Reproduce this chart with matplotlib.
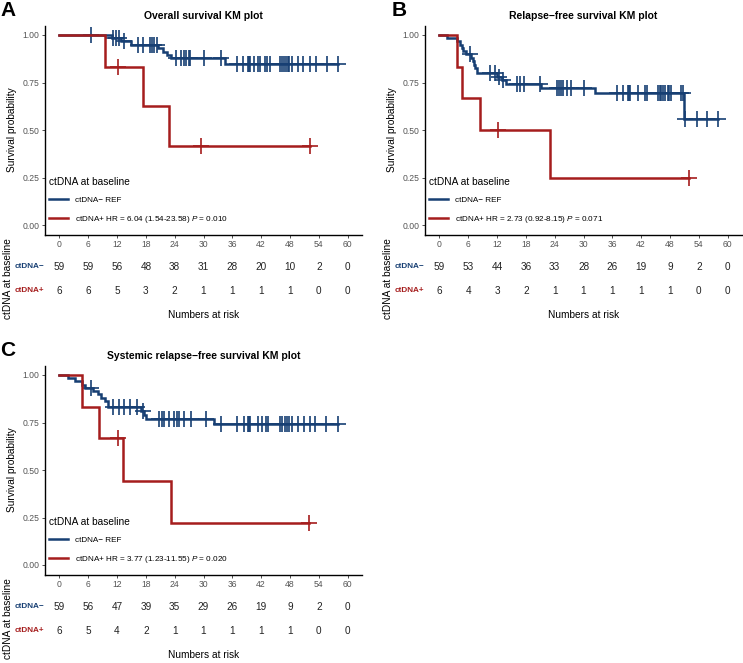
import numpy as np
import matplotlib
matplotlib.use("Agg")
import matplotlib.pyplot as plt
from matplotlib.transforms import blended_transform_factory

plt.rcParams['font.family'] = ['Liberation Sans', 'DejaVu Sans']
plt.rcParams['mathtext.fontset'] = 'custom'
plt.rcParams['mathtext.rm'] = 'Liberation Sans'
plt.rcParams['mathtext.it'] = 'Liberation Sans:italic'

BLUE = '#173F73'
RED = '#A51D1D'
MINUS = '\u2212'

# ==========================================
# DATA
# ==========================================
risk_times = [0, 6, 12, 18, 24, 30, 36, 42, 48, 54, 60]

# --- A: overall survival ---
a_neg_event_t = [11.0, 12.8, 14.9, 20.5, 21.5, 22.5, 23.3, 34.4]
a_neg_event_s = [0.983, 0.966, 0.948, 0.930, 0.912, 0.894, 0.877, 0.847]
a_neg_cens = [6.6, 11.1, 11.7, 12.4, 13.4, 16.4, 17.5, 18.8, 19.2, 19.6, 20.3,
              24.3, 25.3, 25.9, 26.3, 26.9, 27.2, 30.2, 33.7, 36.9, 38.3, 39.2,
              39.4, 39.6, 40.6, 41.3, 41.8, 42.9, 43.2, 43.9, 45.9, 46.4, 46.8,
              47.1, 47.5, 47.9, 48.5, 49.7, 50.8, 52.2, 53.4, 55.7, 58.0]
a_pos_event_t = [9.4, 17.4, 22.8]
a_pos_event_s = [0.833, 0.625, 0.417]
a_pos_cens = [12.2, 29.5, 52.1]
a_risk_neg = [59, 59, 56, 48, 38, 31, 28, 20, 10, 2, 0]
a_risk_pos = [6, 6, 5, 3, 2, 1, 1, 1, 1, 0, 0]
a_hr = "HR = 6.04 (1.54-23.58) $\\mathit{P}$ = 0.010"
a_title = "Overall survival KM plot"

# --- B: relapse-free survival ---
b_neg_event_t = [1.6, 3.7, 4.2, 4.6, 5.0, 5.5, 6.6, 6.9, 7.2, 7.5, 7.8,
                 11.9, 13.0, 13.8, 21.1, 32.4, 50.9]
b_neg_event_s = [0.983, 0.966, 0.949, 0.932, 0.915, 0.898, 0.880, 0.862, 0.843,
                 0.824, 0.800, 0.781, 0.762, 0.742, 0.722, 0.693, 0.556]
b_neg_cens = [6.4, 10.6, 11.6, 12.4, 13.3, 16.2, 16.8, 17.6, 21.0, 24.4, 24.8,
              25.4, 25.7, 26.6, 27.4, 30.2, 36.9, 38.2, 39.2, 39.4, 39.6, 41.4,
              42.9, 43.3, 45.5, 45.9, 46.2, 46.6, 47.0, 47.5, 47.9, 48.3, 50.2,
              50.7, 51.1, 53.6, 55.8, 58.0]
b_pos_event_t = [3.7, 4.7, 8.4, 23.0]
b_pos_event_s = [0.833, 0.667, 0.500, 0.250]
b_pos_cens = [12.1, 51.9]
b_risk_neg = [59, 53, 44, 36, 33, 28, 26, 19, 9, 2, 0]
b_risk_pos = [6, 4, 3, 2, 1, 1, 1, 1, 1, 0, 0]
b_hr = "HR = 2.73 (0.92-8.15) $\\mathit{P}$ = 0.071"
b_title = "Relapse" + MINUS + "free survival KM plot"

# --- C: systemic relapse-free survival ---
c_neg_event_t = [1.7, 3.3, 4.6, 5.4, 6.9, 8.0, 8.7, 9.4, 10.1, 17.0, 17.6, 18.0, 32.2]
c_neg_event_s = [0.983, 0.966, 0.949, 0.932, 0.915, 0.898, 0.880, 0.862, 0.830,
                 0.810, 0.790, 0.769, 0.741]
c_neg_cens = [6.6, 11.1, 12.5, 13.5, 14.6, 16.1, 17.3, 20.8, 21.4, 21.7, 22.9,
              23.9, 24.4, 25.0, 26.0, 27.4, 30.5, 33.7, 36.9, 38.4, 39.2, 39.4,
              39.6, 41.3, 42.1, 43.1, 43.4, 45.9, 46.4, 46.9, 47.3, 47.9, 48.5,
              49.7, 50.9, 52.1, 53.3, 55.6, 58.0]
c_pos_event_t = [4.7, 8.3, 13.3, 23.2]
c_pos_event_s = [0.833, 0.667, 0.444, 0.222]
c_pos_cens = [12.1, 52.0]
c_risk_neg = [59, 56, 47, 39, 35, 29, 26, 19, 9, 2, 0]
c_risk_pos = [6, 5, 4, 2, 1, 1, 1, 1, 1, 0, 0]
c_hr = "HR = 3.77 (1.23-11.55) $\\mathit{P}$ = 0.020"
c_title = "Systemic relapse" + MINUS + "free survival KM plot"

# ==========================================
# FIGURE
# ==========================================
W, H = 743, 663
fig = plt.figure(figsize=(W / 100, H / 100), dpi=100)


def fx(px):
    return px / W


def fy(py):
    return 1 - py / H


def surv_at(t, ev_t, ev_s):
    idx = np.searchsorted(ev_t, t, side='right')
    return np.r_[1.0, ev_s][idx]


def km_curve(ax, ev_t, ev_s, cens, color, label):
    ev_t = np.asarray(ev_t)
    ev_s = np.asarray(ev_s)
    t_end = max(max(cens), ev_t.max())
    tt = np.r_[0, ev_t, t_end]
    ss = np.r_[1.0, ev_s, ev_s[-1]]
    line, = ax.step(tt, ss, where='post', color=color, lw=1.8, label=label,
                    solid_joinstyle='miter')
    cens = np.asarray(cens)
    ax.plot(cens, surv_at(cens, ev_t, ev_s), '+', color=color, ms=11, mew=1.2)
    return line


def panel(left, top, letter, letter_x, title, neg, pos, risk_neg, risk_pos, hr):
    # plot area: x from -3 to 63, y from -0.05 to 1.05
    if left < 100:
        x0, x1 = 45, 362
    else:
        x0, x1 = 425, 742
    y0, y1 = top, top + 209
    ax = fig.add_axes([fx(x0), fy(y1), fx(x1 - x0), (y1 - y0) / H])
    l1 = km_curve(ax, *neg, BLUE, 'ctDNA' + MINUS + ' REF')
    l2 = km_curve(ax, *pos, RED, 'ctDNA+ ' + hr)
    ax.set_xlim(-3, 63)
    ax.set_ylim(-0.05, 1.05)
    ax.set_xticks(risk_times)
    ax.set_yticks([0, 0.25, 0.5, 0.75, 1.0])
    ax.set_yticklabels(['0.00', '0.25', '0.50', '0.75', '1.00'])
    ax.tick_params(axis='both', labelsize=6.2, labelcolor='#555555',
                   color='#333333', length=2.5, width=0.6, pad=1.5)
    for s in ['top', 'right']:
        ax.spines[s].set_visible(False)
    for s in ['left', 'bottom']:
        ax.spines[s].set_linewidth(1.0)
    ax.set_ylabel('Survival probability', fontsize=7.3, labelpad=4)
    ax.set_title(title, fontsize=7.5, fontweight='bold', pad=5)

    leg = ax.legend(handles=[l1, l2], title='ctDNA at baseline', loc='lower left',
                    bbox_to_anchor=(-0.005, 0.02), frameon=False, fontsize=5.9,
                    title_fontsize=7.3, handlelength=2.3, handletextpad=0.9,
                    labelspacing=1.15, borderaxespad=0.3)
    leg._legend_box.align = 'left'

    # panel letter
    fig.text(fx(letter_x), fy(top - 15), letter, fontsize=15, fontweight='bold',
             ha='left', va='center')

    # risk table under the plot
    tr = blended_transform_factory(ax.transData, fig.transFigure)
    for t, n in zip(risk_times, risk_neg):
        ax.text(t, fy(y1 + 32.5), str(n), transform=tr, ha='center', va='center',
                fontsize=7.2, color='#222222')
    for t, n in zip(risk_times, risk_pos):
        ax.text(t, fy(y1 + 56.5), str(n), transform=tr, ha='center', va='center',
                fontsize=7.2, color='#222222')
    fig.text(fx(x0 - 1), fy(y1 + 32.5), 'ctDNA' + MINUS, color=BLUE, fontsize=5.9,
             fontweight='bold', ha='right', va='center')
    fig.text(fx(x0 - 1), fy(y1 + 56.5), 'ctDNA+', color=RED, fontsize=5.9,
             fontweight='bold', ha='right', va='center')
    fig.text(fx((x0 + x1) / 2), fy(y1 + 80.5), 'Numbers at risk', fontsize=7.3,
             ha='center', va='center')
    fig.text(fx(x0 - 37), fy(y1 + 44.5), 'ctDNA at baseline', fontsize=7.3,
             rotation=90, ha='center', va='center')
    return ax


panel(45, 25.5, 'A', 0, a_title,
      (a_neg_event_t, a_neg_event_s, a_neg_cens),
      (a_pos_event_t, a_pos_event_s, a_pos_cens),
      a_risk_neg, a_risk_pos, a_hr)
panel(425, 25.5, 'B', 392, b_title,
      (b_neg_event_t, b_neg_event_s, b_neg_cens),
      (b_pos_event_t, b_pos_event_s, b_pos_cens),
      b_risk_neg, b_risk_pos, b_hr)
panel(45, 365.5, 'C', 0, c_title,
      (c_neg_event_t, c_neg_event_s, c_neg_cens),
      (c_pos_event_t, c_pos_event_s, c_pos_cens),
      c_risk_neg, c_risk_pos, c_hr)

fig.savefig('out.png', dpi=100)
